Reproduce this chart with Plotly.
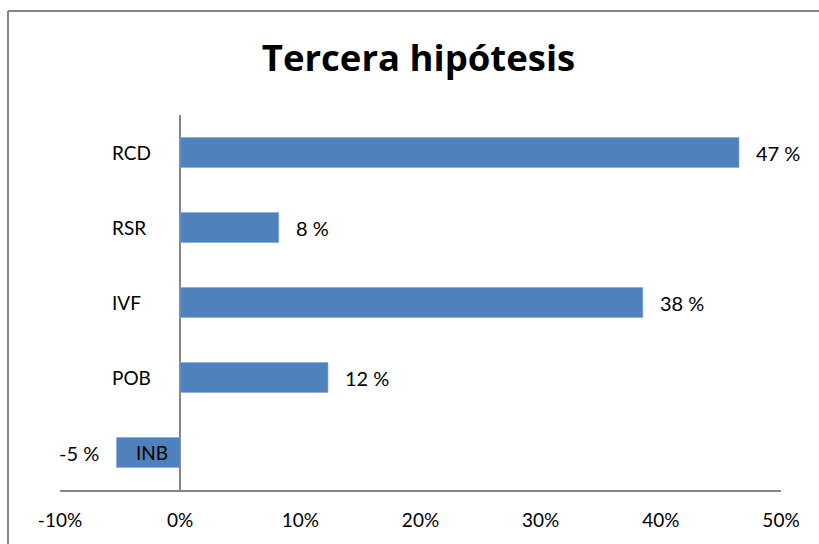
import plotly.graph_objects as go

categories = ["INB", "POB", "IVF", "RSR", "RCD"]
values = [-5.3, 12.3, 38.5, 8.2, 46.5]
value_labels = ["-5 %", "12 %", "38 %", "8 %", "47 %"]
tick_vals = [-10, 0, 10, 20, 30, 40, 50]
tick_text = ["-10%", "0%", "10%", "20%", "30%", "40%", "50%"]
title_text = "Tercera hipótesis"

FONT = "Lato, 'Open Sans', sans-serif"
TITLE_FONT = "'Open Sans', Lato, sans-serif"
BAR_COLOR = "#4F81BD"
AXIS_COLOR = "#868686"

fig = go.Figure()
fig.add_trace(go.Bar(
    y=categories, x=values, orientation="h",
    marker=dict(color=BAR_COLOR, line=dict(width=0.6, color="#7fa6d6")),
    hoverinfo="skip", showlegend=False,
))

annotations = []
# value labels
for cat, v, lab in zip(categories, values, value_labels):
    annotations.append(dict(
        x=v, y=cat, xref="x", yref="y", text=lab, showarrow=False,
        xanchor="left" if v >= 0 else "right",
        xshift=15 if v >= 0 else -15,
        font=dict(family=FONT, size=20, color="#000000"),
    ))
# category labels (Excel-style, placed left of the zero axis)
for cat, v in zip(categories, values):
    annotations.append(dict(
        x=0, y=cat, xref="x", yref="y", text=cat, showarrow=False,
        xanchor="left" if v >= 0 else "right",
        xshift=-70 if v >= 0 else -10,
        font=dict(family=FONT, size=19, color="#000000"),
    ))

fig.update_layout(
    width=819, height=544,
    margin=dict(l=60, r=38, t=115, b=54),
    paper_bgcolor="white", plot_bgcolor="white",
    title=dict(text="<b>" + title_text + "</b>", x=418.5 / 819, xanchor="center",
               y=1 - 58 / 544, yanchor="middle",
               font=dict(family=TITLE_FONT, size=36.5, color="#000000")),
    bargap=0.6,
    annotations=annotations,
    xaxis=dict(range=[-10, 50], tickvals=tick_vals, ticktext=tick_text,
               showgrid=False, zeroline=True, zerolinecolor=AXIS_COLOR, zerolinewidth=1.5,
               showline=True, linecolor=AXIS_COLOR, linewidth=1.5,
               ticks="", ticklabelstandoff=12,
               tickfont=dict(family=FONT, size=19, color="#000000"), fixedrange=True),
    yaxis=dict(showticklabels=False, showgrid=False, zeroline=False,
               showline=False, ticks="", fixedrange=True),
    shapes=[
        dict(type="line", xref="paper", yref="paper",
             x0=(8 - 60) / 721, x1=(830 - 60) / 721,
             y0=(490 - 11) / 375, y1=(490 - 11) / 375,
             line=dict(color=AXIS_COLOR, width=2)),
        dict(type="line", xref="paper", yref="paper",
             x0=(8 - 60) / 721, x1=(8 - 60) / 721,
             y0=(490 - 11) / 375, y1=(490 - 560) / 375,
             line=dict(color=AXIS_COLOR, width=2)),
    ],
)

fig.write_html("out.html", config={"displayModeBar": False},
               post_script="document.body.style.margin='0';document.body.style.overflow='hidden';")
